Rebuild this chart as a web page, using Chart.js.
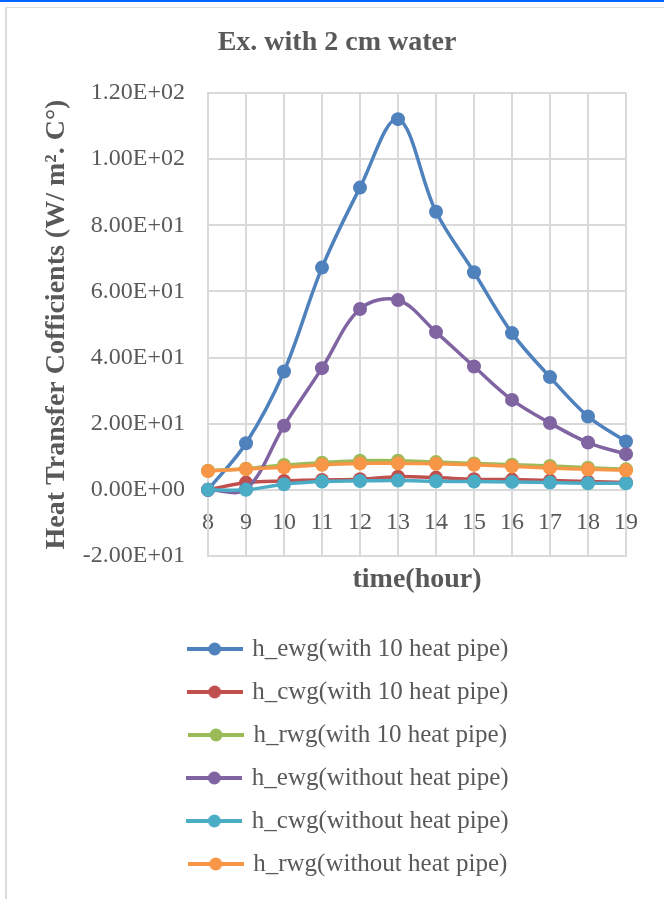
<!DOCTYPE html>
<html>
<head>
<meta charset="utf-8">
<script src="https://cdn.jsdelivr.net/npm/chart.js@4.4.1/dist/chart.umd.min.js"></script>
<style>
  html, body { margin: 0; padding: 0; background: #ffffff; width: 664px; height: 899px; overflow: hidden; }
  #topbar { position: absolute; left: 0; top: 0; width: 664px; height: 2px; background: #0066ff; }
  #frame { position: absolute; left: 5px; top: 7px; width: 700px; height: 950px; border-left: 2px solid #dcdcdc; border-top: 1px solid #dcdcdc; }
  #c { position: absolute; left: 7px; top: 9px; }
</style>
</head>
<body>
<div id="topbar"></div>
<div id="frame"></div>
<canvas id="c" width="657" height="890"></canvas>
<script>
// ---- data ----
const hours = ['8', '9', '10', '11', '12', '13', '14', '15', '16', '17', '18', '19'];
const hEwgWith    = [0, 14.1, 35.8, 67.2, 91.4, 112.1, 84.1, 65.8, 47.4, 34.1, 22.2, 14.6];
const hCwgWith    = [0, 2.2, 2.7, 3.0, 3.2, 4.0, 3.7, 3.2, 3.1, 2.8, 2.5, 2.2];
const hRwgWith    = [5.8, 6.4, 7.5, 8.2, 8.8, 8.8, 8.4, 8.0, 7.6, 7.2, 6.7, 6.2];
const hEwgWithout = [0, 0.2, 19.4, 36.8, 54.7, 57.4, 47.7, 37.3, 27.2, 20.2, 14.3, 10.8];
const hCwgWithout = [0, 0, 1.7, 2.5, 2.7, 2.8, 2.6, 2.5, 2.4, 2.2, 2.0, 2.0];
const hRwgWithout = [5.7, 6.3, 6.8, 7.6, 8.0, 8.0, 7.9, 7.6, 7.1, 6.6, 6.2, 5.9];
const seriesNames = [
  'h_ewg(with 10 heat pipe)',
  'h_cwg(with 10 heat pipe)',
  'h_rwg(with 10 heat pipe)',
  'h_ewg(without heat pipe)',
  'h_cwg(without heat pipe)',
  'h_rwg(without heat pipe)'
];
const yTickLabels = ['-2.00E+01', '0.00E+00', '2.00E+01', '4.00E+01', '6.00E+01', '8.00E+01', '1.00E+02', '1.20E+02'];
const chartTitle = 'Ex. with 2 cm water';
const xTitle = 'time(hour)';
const yTitle = 'Heat Transfer Cofficients (W/ m². C°)';

// ---- styling ----
const colors = ['#4f81bd', '#c0504d', '#9bbb59', '#8064a2', '#4bacc6', '#f79646'];
const seriesData = [hEwgWith, hCwgWith, hRwgWith, hEwgWithout, hCwgWithout, hRwgWithout];
const FONT = "'Liberation Serif', 'Times New Roman', serif";
const TEXT = '#595959';
const GRID = '#d9d9d9';

function legendMarker(color) {
  const cv = document.createElement('canvas');
  cv.width = 56; cv.height = 16;
  const g = cv.getContext('2d');
  g.strokeStyle = color; g.lineWidth = 4; g.lineCap = 'butt';
  g.beginPath(); g.moveTo(0, 8); g.lineTo(56, 8); g.stroke();
  g.fillStyle = color;
  g.beginPath(); g.arc(28, 8, 6.5, 0, Math.PI * 2); g.fill();
  return cv;
}
const markers = colors.map(legendMarker);

const datasets = seriesData.map((d, i) => ({
  label: seriesNames[i],
  data: d,
  borderColor: colors[i],
  backgroundColor: colors[i],
  pointBackgroundColor: colors[i],
  pointBorderColor: colors[i],
  pointBorderWidth: 0,
  pointRadius: 7,
  pointHoverRadius: 7,
  borderWidth: 3.5,
  tension: 0.35,
  fill: false,
  order: seriesData.length - 1 - i
}));

const shiftTitle = {
  id: 'shiftTitle',
  afterLayout(chart) { if (chart.titleBlock) { chart.titleBlock.right -= 24; } }
};

Chart.defaults.font.family = FONT;
Chart.defaults.color = TEXT;

new Chart(document.getElementById('c'), {
  type: 'line',
  data: { labels: hours, datasets },
  plugins: [shiftTitle],
  options: {
    responsive: false,
    animation: false,
    events: [],
    layout: { padding: { left: 65, right: 38, top: 0, bottom: 12.5 } },
    plugins: {
      title: {
        display: true,
        text: chartTitle,
        color: TEXT,
        font: { family: FONT, size: 28, weight: 'bold', lineHeight: 1.2 },
        padding: { top: 17, bottom: 33.4 }
      },
      legend: {
        position: 'bottom',
        align: 'center',
        labels: {
          usePointStyle: true,
          pointStyleWidth: 50,
          color: TEXT,
          padding: 18,
          font: { family: FONT, size: 25 },
          generateLabels: (chart) => chart.data.datasets.map((ds, i) => ({
            text: ds.label,
            pointStyle: markers[i],
            fillStyle: ds.borderColor,
            strokeStyle: ds.borderColor,
            lineWidth: 0,
            hidden: false,
            datasetIndex: i,
            fontColor: TEXT
          }))
        }
      },
      tooltip: { enabled: false }
    },
    scales: {
      x: {
        type: 'category',
        offset: false,
        grid: { color: GRID, lineWidth: 2, drawTicks: false, offset: false },
        border: { color: GRID, width: 2 },
        ticks: {
          color: TEXT, font: { family: FONT, size: 24 }, padding: 18.6, mirror: true,
          maxRotation: 0, minRotation: 0, autoSkip: false
        },
        title: {
          display: true, text: xTitle, color: TEXT,
          font: { family: FONT, size: 28, weight: 'bold', lineHeight: 1.2 },
          padding: { top: 0, bottom: 22.2 }
        },
        afterFit(scale) { scale.height = 62.5; }
      },
      y: {
        min: -20, max: 120,
        grid: { color: GRID, lineWidth: 2, drawTicks: false },
        border: { color: GRID, width: 2 },
        ticks: {
          stepSize: 20, color: TEXT, font: { family: FONT, size: 24 }, padding: 23,
          callback: (v, i) => yTickLabels[i]
        },
        title: {
          display: true, text: yTitle, color: TEXT,
          font: { family: FONT, size: 28, weight: 'bold', lineHeight: 1.2 },
          padding: { top: -31.8, bottom: 0 }
        },
        afterFit(scale) { scale.width = 136; }
      }
    }
  }
});
</script>
</body>
</html>
